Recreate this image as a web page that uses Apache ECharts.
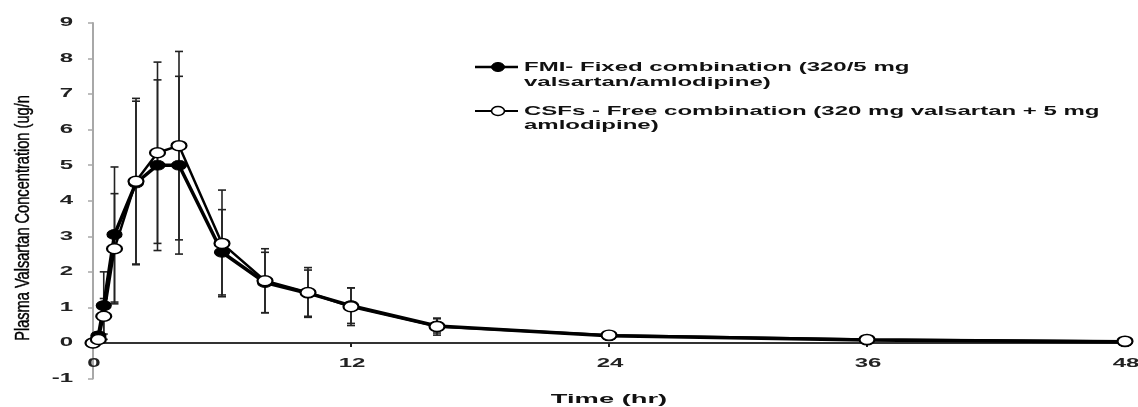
<!DOCTYPE html>
<html>
<head>
<meta charset="utf-8">
<script src="https://cdn.jsdelivr.net/npm/echarts@6/dist/echarts.min.js"></script>
<style>
  html, body { margin: 0; padding: 0; background: #fff; }
  #chart { width: 1138px; height: 407px; }
</style>
</head>
<body>
<div id="chart"></div>
<script>
// Sampling times (hr)
const times = [0, 0.25, 0.5, 1, 2, 3, 4, 6, 8, 10, 12, 16, 24, 36, 48];

// FMI - fixed combination: mean and SD of valsartan concentration
const fmiMean = [0, 0.2, 1.05, 3.05, 4.5, 5.0, 5.0, 2.55, 1.7, 1.4, 1.05, 0.48, 0.2, 0.08, 0.03];
const fmiSD   = [0, 0.1, 0.95, 1.9, 2.3, 2.4, 2.5, 1.2, 0.85, 0.65, 0.5, 0.2, 0.05, 0.03, 0.02];

// CSFs - free combination: mean and SD
const csfMean = [0, 0.1, 0.75, 2.65, 4.55, 5.35, 5.55, 2.8, 1.75, 1.42, 1.02, 0.46, 0.22, 0.1, 0.05];
const csfSD   = [0, 0.1, 0.5, 1.55, 2.33, 2.55, 2.65, 1.5, 0.9, 0.7, 0.53, 0.24, 0.08, 0.04, 0.03];

// Axis tick labels
const xTicks = [0, 12, 24, 36, 48];
const yTicks = [-1, 0, 1, 2, 3, 4, 5, 6, 7, 8, 9];

const fmiName = 'FMI- Fixed combination (320/5 mg\nvalsartan/amlodipine)';
const csfName = 'CSFs - Free combination (320 mg valsartan + 5 mg\namlodipine)';
const xName = 'Time (hr)';
const yName = 'Plasma Valsartan Concentration (ug/n';

const ELLIPSE = 'path://M0,5 A7.5,5 0 1,1 15,5 A7.5,5 0 1,1 0,5 Z';
const WIDE_FONT = 'bold 12px "Liberation Sans", Arial, sans-serif';
const STRETCH = 2.0;

function pairs(xs, ys) { return xs.map((x, i) => [x, ys[i]]); }
function bars(xs, mean, sd) { return xs.map((x, i) => [x, mean[i] - sd[i], mean[i] + sd[i]]); }

function renderErrorBar(params, api) {
  const x = api.value(0), lo = api.value(1), hi = api.value(2);
  if (!(hi - lo > 0)) return null;
  const top = api.coord([x, hi]);
  const bot = api.coord([x, lo]);
  const cap = 4;
  const st = { stroke: '#222', lineWidth: 1.6 };
  return {
    type: 'group',
    children: [
      { type: 'line', shape: { x1: top[0], y1: top[1], x2: bot[0], y2: bot[1] }, style: st },
      { type: 'line', shape: { x1: top[0] - cap, y1: top[1], x2: top[0] + cap, y2: top[1] }, style: st },
      { type: 'line', shape: { x1: bot[0] - cap, y1: bot[1], x2: bot[0] + cap, y2: bot[1] }, style: st }
    ]
  };
}

// Tick labels drawn through the axis scales, horizontally widened
function renderXLabel(params, api) {
  const v = api.value(0);
  const p = api.coord([v, 0]);
  return {
    type: 'text', x: p[0] + 1, y: p[1] + 21, scaleX: STRETCH,
    style: { text: String(v), font: WIDE_FONT, fill: '#222', align: 'center', verticalAlign: 'middle' }
  };
}
function renderYLabel(params, api) {
  const v = api.value(1);
  const p = api.coord([0, v]);
  return {
    type: 'text', x: p[0] - 20, y: p[1], scaleX: STRETCH,
    style: { text: String(v), font: WIDE_FONT, fill: '#222', align: 'right', verticalAlign: 'middle' }
  };
}

const chart = echarts.init(document.getElementById('chart'), null, { renderer: 'canvas' });

chart.setOption({
  animation: false,
  backgroundColor: '#fff',
  grid: { left: 93, right: 13, top: 23, bottom: 28.5, containLabel: false },
  xAxis: {
    type: 'value', min: 0, max: 48, interval: 12,
    axisLine: { show: true, onZero: true, lineStyle: { color: '#333', width: 2 } },
    axisTick: { show: true, length: 4, lineStyle: { color: '#222', width: 2 } },
    axisLabel: { show: false },
    splitLine: { show: false }
  },
  yAxis: {
    type: 'value', min: -1, max: 9, interval: 1,
    axisLine: { show: true, onZero: false, lineStyle: { color: '#a8a8a8', width: 2 } },
    axisTick: { show: true, length: 5, lineStyle: { color: '#a8a8a8', width: 1.5 } },
    axisLabel: { show: false },
    splitLine: { show: false }
  },
  graphic: [
    // axis titles
    {
      type: 'text', x: 609, y: 399, scaleX: 2.1, z: 10,
      style: { text: xName, font: 'bold 13px "Liberation Sans", Arial, sans-serif', fill: '#111', align: 'center', verticalAlign: 'middle' }
    },
    {
      type: 'text', x: 23, y: 218, rotation: Math.PI / 2, scaleX: 0.73, z: 10,
      style: { text: yName, font: '20px "Liberation Sans", Arial, sans-serif', fill: '#000', align: 'center', verticalAlign: 'middle', stroke: '#000', lineWidth: 0.4 }
    },
    // key
    { type: 'line', shape: { x1: 475, y1: 67, x2: 518, y2: 67 }, style: { stroke: '#000', lineWidth: 2.5 }, z: 10 },
    { type: 'ellipse', shape: { cx: 498, cy: 67, rx: 6.5, ry: 4.5 }, style: { fill: '#000', stroke: '#000', lineWidth: 1 }, z: 11 },
    {
      type: 'text', x: 524, y: 60, scaleX: STRETCH, z: 10,
      style: { text: fmiName, font: WIDE_FONT, fill: '#111', lineHeight: 15, verticalAlign: 'top' }
    },
    { type: 'line', shape: { x1: 475, y1: 111, x2: 518, y2: 111 }, style: { stroke: '#000', lineWidth: 2 }, z: 10 },
    { type: 'ellipse', shape: { cx: 498, cy: 111, rx: 6.5, ry: 4.5 }, style: { fill: '#fff', stroke: '#000', lineWidth: 1.6 }, z: 11 },
    {
      type: 'text', x: 524, y: 104, scaleX: STRETCH, z: 10,
      style: { text: csfName, font: WIDE_FONT, fill: '#111', lineHeight: 14.5, verticalAlign: 'top' }
    }
  ],
  series: [
    {
      name: 'FMI SD', type: 'custom', renderItem: renderErrorBar,
      data: bars(times, fmiMean, fmiSD), encode: { x: 0, y: [1, 2] }, z: 1, silent: true
    },
    {
      name: 'CSFs SD', type: 'custom', renderItem: renderErrorBar,
      data: bars(times, csfMean, csfSD), encode: { x: 0, y: [1, 2] }, z: 1, silent: true
    },
    {
      name: 'FMI', type: 'line', data: pairs(times, fmiMean), clip: false, z: 3,
      symbol: ELLIPSE, symbolSize: [15, 10], showAllSymbol: true,
      lineStyle: { color: '#000', width: 3.5 },
      itemStyle: { color: '#000', borderColor: '#000', borderWidth: 1 }
    },
    {
      name: 'CSFs', type: 'line', data: pairs(times, csfMean), clip: false, z: 4,
      symbol: ELLIPSE, symbolSize: [15, 10], showAllSymbol: true,
      lineStyle: { color: '#000', width: 2.5 },
      itemStyle: { color: '#fff', borderColor: '#000', borderWidth: 1.8 }
    },
    {
      name: 'x ticks', type: 'custom', renderItem: renderXLabel, silent: true, z: 5,
      data: xTicks.map(v => [v, 0]), encode: { x: 0, y: 1 }
    },
    {
      name: 'y ticks', type: 'custom', renderItem: renderYLabel, silent: true, z: 5,
      data: yTicks.map(v => [0, v]), encode: { x: 0, y: 1 }
    }
  ]
});
</script>
</body>
</html>
